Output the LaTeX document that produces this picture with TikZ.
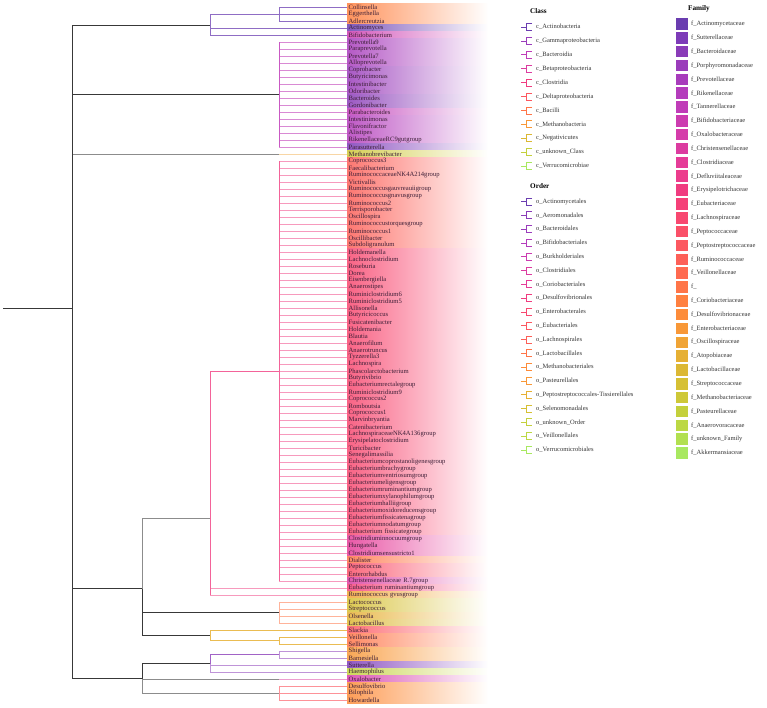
\documentclass[tikz,border=0pt]{standalone}
\usepackage{fontspec}
\setmainfont{Liberation Serif}
\usetikzlibrary{positioning}

% family palette, purple to green
\definecolor{fam0}{HTML}{6A3DB0}
\definecolor{fam1}{HTML}{7D3BB8}
\definecolor{fam2}{HTML}{8A3CB8}
\definecolor{fam3}{HTML}{9A3CBB}
\definecolor{fam4}{HTML}{A83CBC}
\definecolor{fam5}{HTML}{B43CBC}
\definecolor{fam6}{HTML}{C03CB8}
\definecolor{fam7}{HTML}{CC3CB0}
\definecolor{fam8}{HTML}{D53CAA}
\definecolor{fam9}{HTML}{DC3CA0}
\definecolor{fam10}{HTML}{E53C98}
\definecolor{fam11}{HTML}{EC3C8C}
\definecolor{fam12}{HTML}{F03C80}
\definecolor{fam13}{HTML}{F54078}
\definecolor{fam14}{HTML}{F84870}
\definecolor{fam15}{HTML}{FA5068}
\definecolor{fam16}{HTML}{FC5860}
\definecolor{fam17}{HTML}{FD6058}
\definecolor{fam18}{HTML}{FF6A50}
\definecolor{fam19}{HTML}{FF7548}
\definecolor{fam20}{HTML}{FF8040}
\definecolor{fam21}{HTML}{FD8C3A}
\definecolor{fam22}{HTML}{F89838}
\definecolor{fam23}{HTML}{F0A436}
\definecolor{fam24}{HTML}{E6B034}
\definecolor{fam25}{HTML}{DCB834}
\definecolor{fam26}{HTML}{D6C034}
\definecolor{fam27}{HTML}{CEC838}
\definecolor{fam28}{HTML}{C4D03C}
\definecolor{fam29}{HTML}{BCD844}
\definecolor{fam30}{HTML}{B2E050}
\definecolor{fam31}{HTML}{A8E860}
\definecolor{leaftext}{HTML}{3C1E36}
\definecolor{legtext}{HTML}{333333}

\tikzset{
  leaf/.style={anchor=west, minimum height=7pt, text width=138pt, inner xsep=1.5pt,
    inner ysep=0pt, align=left, text=leaftext, font=\fontsize{6.6}{7}\selectfont},
  head/.style={anchor=west, inner sep=0pt, text=black, font=\bfseries\fontsize{7.2}{8}\selectfont},
  legitem/.style={anchor=west, inner sep=0pt, text=legtext, font=\fontsize{6.5}{7}\selectfont},
  famsq/.style={minimum size=11.5pt, inner sep=0pt},
  stem/.style={draw=black!78, line width=0.9pt},
  stemgray/.style={draw=black!45, line width=0.9pt},
  act/.style={draw=fam0!75, line width=0.9pt},
  bacttip/.style={draw=fam6!60, line width=1pt},
  bactv/.style={draw=fam6!85, line width=0.9pt},
  methtip/.style={draw=fam23!45, line width=1pt},
  clostip/.style={draw=fam12!52, line width=1pt},
  closv/.style={draw=fam12!80, line width=0.9pt},
  bacil/.style={draw=fam19!55, line width=1pt},
  negat/.style={draw=fam24!85, line width=0.9pt},
  gamma/.style={draw=fam2!80, line width=0.9pt},
  gammatip/.style={draw=fam2!55, line width=1pt},
  oxalo/.style={draw=fam9!50, line width=1pt},
  delta/.style={draw=fam16!65, line width=1pt},
  legglyph/.style={line width=0.8pt}
}

\begin{document}
\begin{tikzpicture}[x=1pt,y=-1pt]
  \useasboundingbox (0,0) rectangle (767,707);

  % genus labels on fading bands
  \foreach \name/\f [count=\i] in {
      Collinsella/20, Eggerthella/20, Adlercreutzia/20, Actinomyces/0, Bifidobacterium/7,
      Prevotella9/4, Paraprevotella/4, Prevotella7/4, Alloprevotella/4, Coprobacter/3,
      Butyricimonas/3, Intestinibacter/3, Odoribacter/3, Bacteroides/2, Gordonibacter/2,
      Parabacteroides/6, Intestinimonas/5, Flavonifractor/5, Alistipes/5, RikenellaceaeRC9gutgroup/5,
      Parasutterella/1, Methanobrevibacter/27, Coprococcus3/17, Faecalibacterium/17,
      RuminococcaceaeNK4A214group/17, Victivallis/17, Ruminococcusgauvreauiigroup/17,
      Ruminococcusgnavusgroup/17, Ruminococcus2/17, Terrisporobacter/17, Oscillospira/17,
      Ruminococcustorquesgroup/17, Ruminococcus1/17, Oscillibacter/17, Subdoligranulum/17,
      Holdemanella/14, Lachnoclostridium/14, Roseburia/14, Dorea/14, Eisenbergiella/14,
      Anaerostipes/14, Ruminiclostridium6/14, Ruminiclostridium5/14, Allisonella/14,
      Butyricicoccus/14, Fusicatenibacter/14, Holdemania/14, Blautia/14, Anaerofilum/14,
      Anaerotruncus/14, Tyzzerella3/14, Lachnospira/14, Phascolarctobacterium/14, Butyrivibrio/14,
      Eubacteriumrectalegroup/14, Ruminiclostridium9/14, Coprococcus2/14, Romboutsia/14,
      Coprococcus1/14, Marvinbryantia/14, Catenibacterium/14, LachnospiraceaeNK4A136group/14,
      Erysipelatoclostridium/14, Turicibacter/14, Senegalimassilia/14,
      Eubacteriumcoprostanoligenesgroup/14, Eubacteriumbrachygroup/14,
      Eubacteriumventriosumgroup/14, Eubacteriumeligensgroup/14, Eubacteriumruminantiumgroup/14,
      Eubacteriumxylanophilumgroup/14, Eubacteriumhalliigroup/14, Eubacteriumoxidoreducensgroup/14,
      Eubacteriumfissicatenagroup/14, Eubacteriumnodatumgroup/14, Eubacterium fissicategroup/14,
      Clostridiuminnocuumgroup/10, Hungatella/10, Clostridiumsensustricto1/10, Dialister/19,
      Peptococcus/15, Enterorhabdus/15, Christensenellaceae R.7group/9,
      Eubacterium ruminantiumgroup/13, Ruminococcus gvusgroup/23, Lactococcus/26,
      Streptococcus/26, Olsenella/24, Lactobacillus/25, Slackia/16, Veillonella/19,
      Sellimonas/19, Shigella/22, Barnesiella/22, Sutterella/1, Haemophilus/28,
      Oxalobacter/8, Desulfovibrio/21, Bilophila/21, Howardella/21}
    \node[leaf, left color=fam\f!85, right color=white] (t\i) at (347,{7*\i}) {\name};

  % internal nodes
  \coordinate (base) at (3,308.3);
  \coordinate (root) at (72,308.3);
  \coordinate (nA)  at (210,25.7);
  \coordinate (n13) at (279,14);
  \coordinate (nB)  at (279,94.5);
  \coordinate (m22) at (279,154);
  \coordinate (nC)  at (142,588.6);
  \coordinate (nD)  at (210,518);
  \coordinate (nE)  at (279,371);
  \coordinate (nF)  at (279,612.5);
  \coordinate (nG)  at (210,635.25);
  \coordinate (nK)  at (279,640.5);
  \coordinate (nH)  at (142,678.6);
  \coordinate (nI)  at (210,663.8);
  \coordinate (nL)  at (279,654.5);
  \coordinate (m97) at (279,679);
  \coordinate (nJ)  at (279,693);

  % backbone
  \draw[stem] (base) -- (root);
  \draw[stem] (root) |- (nA);
  \draw[stem] (root) |- (nB);
  \draw[stemgray] (root) |- (m22);
  \draw[stem] (root) |- (nC);
  \draw[stem] (root) |- (nH);
  \draw[stem] (root |- nA) -- (root |- nH);

  % Actinobacteria
  \draw[act] (nA) |- (n13);
  \draw[act] (nA) |- (t4.west);
  \draw[act] (nA) |- (t5.west);
  \foreach \i in {1,2,3}
    \draw[act] (n13) |- (t\i.west);

  % Bacteroidia
  \foreach \i in {6,...,21}
    \draw[bacttip] (nB) |- (t\i.west);
  \draw[bactv] (nB |- t6.west) -- (nB |- t21.west);

  \draw[methtip] (m22) -- (t22.west);

  % Clostridia and the rest of C
  \draw[stemgray] (nC) |- (nD);
  \draw[stem] (nC) |- (nF);
  \draw[stem] (nC) |- (nG);
  \draw[closv] (nD) |- (nE);
  \foreach \i in {84,85}
    \draw[clostip] (nD) |- (t\i.west);
  \draw[closv] (nD |- nE) -- (nD |- t85.west);
  \foreach \i in {23,...,83}
    \draw[clostip] (nE) |- (t\i.west);
  \draw[closv] (nE |- t23.west) -- (nE |- t83.west);
  \foreach \i in {86,...,89}
    \draw[bacil] (nF) |- (t\i.west);
  \draw[negat] (nG) |- (t90.west);
  \draw[negat] (nG) |- (nK);
  \foreach \i in {91,92}
    \draw[negat] (nK) |- (t\i.west);

  % Proteobacteria
  \draw[stem] (nH) |- (nI);
  \draw[stemgray] (nH) |- (m97);
  \draw[stemgray] (nH) |- (nJ);
  \draw[gamma] (nI) |- (nL);
  \foreach \i in {93,94}
    \draw[gammatip] (nL) |- (t\i.west);
  \foreach \i in {95,96}
    \draw[gammatip] (nI) |- (t\i.west);
  \draw[oxalo] (m97) -- (t97.west);
  \foreach \i in {98,99,100}
    \draw[delta] (nJ) |- (t\i.west);

  % legend: class
  \node[head] (classhead) at (530,11) {Class};
  \foreach \name [count=\i from 0] in {c\_Actinobacteria, c\_Gammaproteobacteria,
      c\_Bacteroidia, c\_Betaproteobacteria, c\_Clostridia, c\_Deltaproteobacteria,
      c\_Bacilli, c\_Methanobacteria, c\_Negativicutes, c\_unknown\_Class, c\_Verrucomicrobiae} {
    \pgfmathtruncatemacro\c{round(31*\i/10)}
    \coordinate (cg\i) at (521,{27+13.9*\i});
    \draw[legglyph, fam\c] (cg\i) -- ++(5,0) ++(6,-3.5) -- ++(-6,0) -- ++(0,7) -- ++(6,0);
    \node[legitem] (c\i) at (536,{27+13.9*\i}) {\name};
  }

  % legend: order
  \node[head] (orderhead) at (530,186) {Order};
  \foreach \name [count=\i from 0] in {o\_Actinomycetales, o\_Aeromonadales, o\_Bacteroidales,
      o\_Bifidobacteriales, o\_Burkholderiales, o\_Clostridiales, o\_Coriobacteriales,
      o\_Desulfovibrionales, o\_Enterobacterales, o\_Eubacteriales, o\_Lachnospirales,
      o\_Lactobacillales, o\_Methanobacteriales, o\_Pasteurellales,
      o\_Peptostreptococcales-Tissierellales, o\_Selenomonadales, o\_unknown\_Order,
      o\_Veillonellales, o\_Verrucomicrobiales} {
    \pgfmathtruncatemacro\c{round(31*\i/18)}
    \coordinate (og\i) at (521,{201.5+13.8*\i});
    \draw[legglyph, fam\c] (og\i) -- ++(5,0) ++(6,-3.5) -- ++(-6,0) -- ++(0,7) -- ++(6,0);
    \node[legitem] (o\i) at (536,{201.5+13.8*\i}) {\name};
  }

  % legend: family
  \node[head] (famhead) at (688,9) {Family};
  \foreach \name [count=\i from 0] in {f\_Actinomycetaceae, f\_Sutterellaceae, f\_Bacteroidaceae,
      f\_Porphyromonadaceae, f\_Prevotellaceae, f\_Rikenellaceae, f\_Tannerellaceae,
      f\_Bifidobacteriaceae, f\_Oxalobacteraceae, f\_Christensenellaceae, f\_Clostridiaceae,
      f\_Defluviitaleaceae, f\_Erysipelotrichaceae, f\_Eubacteriaceae, f\_Lachnospiraceae,
      f\_Peptococcaceae, f\_Peptostreptococcaceae, f\_Ruminococcaceae, f\_Veillonellaceae, f\_,
      f\_Coriobacteriaceae, f\_Desulfovibrionaceae, f\_Enterobacteriaceae, f\_Oscillospiraceae,
      f\_Atopobiaceae, f\_Lactobacillaceae, f\_Streptococcaceae, f\_Methanobacteriaceae,
      f\_Pasteurellaceae, f\_Anaerovoracaceae, f\_unknown\_Family, f\_Akkermansiaceae} {
    \node[famsq, fill=fam\i] (fs\i) at (682,{24+13.84*\i}) {};
    \node[legitem] (f\i) at (691,{24+13.84*\i}) {\name};
  }
\end{tikzpicture}
\end{document}
